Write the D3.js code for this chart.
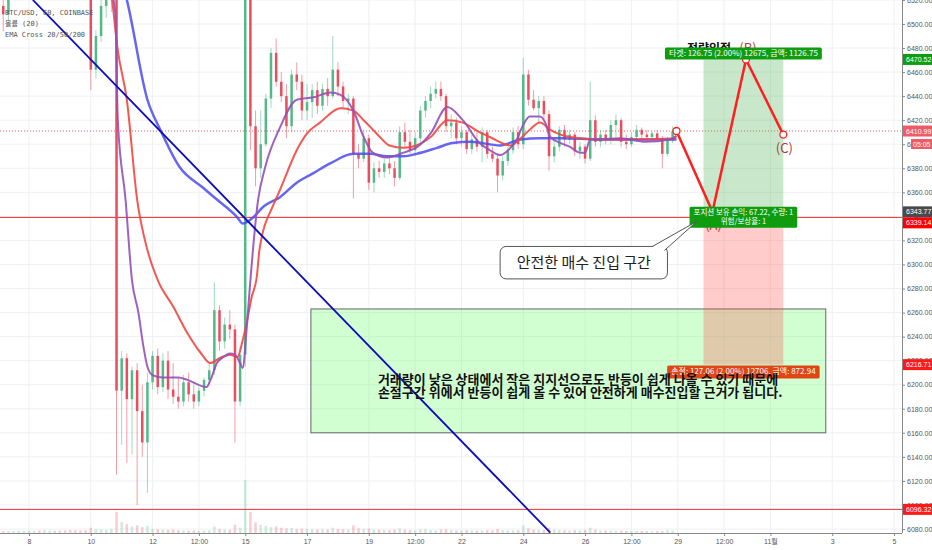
<!DOCTYPE html>
<html>
<head>
<meta charset="utf-8">
<script src="https://cdn.jsdelivr.net/npm/d3@7"></script>
<style>
  body { margin: 0; background: #fff; }
  svg { display: block; }
  .axis text { font-family: "Liberation Sans", "Noto Sans CJK KR", sans-serif; font-size: 7px; fill: #555; }
  .axis line { stroke: #888; }
  .axis .domain { display: none; }
</style>
</head>
<body>
<script>
// ---- data (BTC/USD, Coinbase, bars of 4h starting Oct 7 04:00) ----
var barStart = [7, 4];
var barHours = 4;
var ohlc = [
  [6515,6545,6494,6508],[6508,6540,6502,6535],[6535,6570,6528,6560],[6560,6590,6550,6580],[6580,6610,6570,6600],
  [6600,6630,6590,6620],[6620,6650,6610,6640],[6640,6660,6620,6630],[6630,6655,6615,6645],[6645,6670,6635,6650],[6650,6665,6630,6640],
  [6640,6655,6615,6625],[6625,6640,6600,6610],[6610,6630,6590,6600],[6600,6615,6570,6580],[6580,6600,6560,6570],[6570,6585,6540,6550],
  [6550,6555,6445,6462],[6462,6495,6455,6490],[6490,6525,6485,6515],[6515,6540,6505,6530],[6530,6560,6510,6545],[6545,6550,6125,6195],
  [6195,6228,6150,6222],[6222,6226,6135,6188],[6188,6215,6142,6212],[6212,6218,6100,6178],[6178,6200,6140,6152],[6152,6210,6110,6202],
  [6202,6228,6196,6224],[6224,6230,6192,6198],[6198,6226,6194,6220],[6220,6228,6188,6196],[6196,6218,6184,6190],[6190,6206,6180,6186],
  [6186,6208,6182,6202],[6202,6210,6186,6192],[6192,6200,6180,6186],[6186,6198,6182,6195],[6195,6206,6190,6204],[6204,6218,6200,6212],
  [6212,6285,6208,6262],[6262,6266,6228,6236],[6236,6256,6230,6250],[6250,6262,6238,6246],[6246,6250,6152,6186],[6186,6232,6182,6225],
  [6225,6640,6215,6590],[6590,6600,6395,6415],[6415,6428,6365,6380],[6380,6428,6372,6400],[6400,6442,6398,6438],[6438,6480,6430,6476],
  [6476,6488,6448,6452],[6452,6460,6435,6440],[6440,6450,6405,6415],[6415,6462,6410,6458],[6458,6468,6445,6452],[6452,6458,6420,6428],
  [6428,6450,6420,6435],[6435,6450,6422,6445],[6445,6452,6425,6432],[6432,6450,6428,6446],[6446,6455,6432,6440],[6440,6490,6438,6462],
  [6462,6468,6440,6448],[6448,6452,6430,6436],[6436,6442,6425,6438],[6438,6440,6355,6392],[6392,6400,6380,6388],[6388,6412,6385,6405],
  [6405,6408,6362,6368],[6368,6385,6360,6380],[6380,6386,6372,6377],[6377,6388,6372,6384],[6384,6390,6375,6380],[6380,6386,6365,6372],
  [6372,6415,6370,6410],[6410,6418,6398,6402],[6402,6412,6392,6395],[6395,6410,6390,6405],[6405,6432,6402,6428],[6428,6440,6422,6436],
  [6436,6448,6430,6442],[6442,6452,6438,6446],[6446,6452,6436,6440],[6440,6442,6410,6415],[6415,6425,6405,6418],[6418,6422,6400,6405],
  [6405,6415,6398,6410],[6410,6412,6392,6396],[6396,6408,6392,6404],[6404,6410,6394,6398],[6398,6414,6385,6410],[6410,6412,6388,6392],
  [6392,6398,6385,6388],[6388,6392,6360,6374],[6374,6390,6370,6386],[6386,6398,6382,6395],[6395,6414,6392,6410],[6410,6415,6396,6400],
  [6400,6472,6396,6458],[6458,6462,6432,6437],[6437,6445,6428,6430],[6430,6440,6418,6436],[6436,6440,6420,6425],[6425,6428,6378,6390],
  [6390,6402,6385,6398],[6398,6415,6394,6412],[6412,6416,6398,6404],[6404,6412,6400,6408],[6408,6410,6390,6394],[6394,6402,6388,6398],
  [6398,6400,6384,6388],[6388,6452,6386,6420],[6420,6424,6398,6402],[6402,6412,6398,6408],[6408,6412,6400,6404],[6404,6420,6400,6416],
  [6416,6425,6405,6420],[6420,6422,6398,6402],[6402,6408,6396,6400],[6400,6410,6398,6406],[6406,6416,6402,6412],[6412,6414,6404,6408],
  [6408,6412,6403,6406],[6406,6411,6402,6409],[6409,6412,6404,6405],[6405,6407,6380,6392],[6392,6406,6390,6403],[6403,6415,6401,6410.99]
];
var volumes = [
  300,350,320,400,380,
  420,380,450,500,420,380,
  400,450,520,480,460,500,
  900,650,600,550,700,3600,
  1900,1500,1100,1300,1000,1200,
  700,650,600,550,600,500,
  450,400,420,380,400,450,
  1100,700,600,550,1400,900,
  9000,3600,1800,1400,1200,1000,
  1100,900,800,850,700,750,
  700,650,600,650,600,900,
  700,650,600,1300,800,700,
  750,600,550,500,520,600,
  800,600,500,450,600,650,
  500,450,600,650,500,450,
  450,500,420,400,450,500,
  450,700,500,420,450,480,
  1300,800,600,550,500,900,
  600,500,450,420,480,450,
  500,900,600,450,400,420,
  380,400,350,330,360,340,
  320,300,330,310,500,400
];

// EMA points: [day of October, hour, price]
var ema20 = [[10,7,6560],[10,19,6510],[10,21,6420],[11,3,6354],[11,8,6287],[11,13,6260],[11,17,6231],[11,20,6215],
  [12,0,6208],[12,8,6206],[12,20,6206],[13,3,6204],[13,18,6198],[13,21,6204],[14,2,6218],[14,7,6223],[14,12,6226],
  [14,16,6225],[14,20,6218],[14,22,6214],[15,1,6245],[15,4,6287],[15,10,6354],[15,15,6379],[16,3,6414],[16,16,6437],
  [17,5,6439],[17,18,6443],[18,2,6441],[18,12,6428],[18,20,6406],[19,3,6393],[19,14,6389],[20,3,6393],[20,14,6398],
  [21,0,6409],[21,13,6431],[22,1,6420],[22,14,6401],[22,22,6395],[23,6,6391],[23,14,6397],[23,19,6404],[23,23,6414],
  [24,5,6423],[24,13,6423],[24,17,6418],[24,21,6406],[25,5,6401],[25,12,6398],[25,20,6393],[26,0,6393],[26,4,6404],
  [26,12,6404],[27,3,6405],[27,23,6402],[28,18,6404],[28,23,6407]];
var ema50 = [[10,4,6580],[10,16,6525],[10,21,6478],[11,4,6437],[11,12,6354],[11,20,6312],[12,4,6287],[12,16,6265],
  [13,3,6243],[13,13,6227],[13,21,6218],[14,4,6222],[14,12,6225],[14,18,6223],[14,22,6237],[15,1,6251],[15,5,6273],
  [15,9,6290],[15,11,6312],[15,22,6350],[16,3,6362],[16,16,6395],[17,0,6409],[17,10,6418],[18,2,6430],[18,12,6428],
  [18,20,6420],[19,6,6409],[19,16,6399],[20,3,6397],[20,13,6399],[21,0,6406],[21,13,6420],[22,1,6418],[22,14,6410],
  [22,22,6406],[23,14,6399],[23,21,6404],[24,5,6412],[24,13,6418],[24,21,6412],[25,5,6408],[25,20,6405],[26,12,6404],
  [27,19,6404],[28,23,6405]];
var ema200 = [[10,19,6553],[11,4,6520],[11,20,6437],[12,6,6412],[12,21,6381],[13,15,6364],[14,2,6354],[14,18,6339],
  [14,22,6334],[15,6,6339],[15,14,6348],[16,3,6356],[16,16,6368],[17,5,6376],[17,18,6384],[18,12,6392],[19,1,6392],
  [19,14,6390],[20,3,6390],[20,13,6392],[21,5,6397],[21,17,6401],[22,7,6402],[23,6,6399],[23,22,6404],[24,13,6405],
  [25,5,6405],[26,12,6404],[28,18,6404],[28,23,6404]];

var trendLine = [[8,3,6520],[24,21,6077]];
var waves = [[28,23,6410.99],[30,3,6343.77],[31,5,6470.52],[32,10,6408]];
var waveNames = ['', '(A)', '(B)', '(C)'];

var position = { from: [29,20], to: [32,10], entry: 6343.77, target: 6470.52, stop: 6216.71 };
var targetText = '타겟: 126.75 (2.00%) 12675, 금액: 1126.75';
var entryText = ['포지션 보유 손익: 67.22, 수량: 1', '위험/보상율: 1'];
var stopText = '손절: 127.06 (2.00%) 12706, 금액: 872.94';

var callout = { from: [23,6], to: [28,16], top: 6315, bottom: 6288, tip: [29,15,6336], text: '안전한 매수 진입 구간' };
var note = { from: [17,3], to: [33,19], top: 6263, bottom: 6160,
  text: ['거래량이 낮은 상태에서 작은 지지선으로도 반등이 쉽게 나올 수 있기 때문에',
         '손절구간 위에서 반등이 쉽게 올 수 있어 안전하게 매수진입할 근거가 됩니다.'] };

var supportLines = [6339.14, 6096.32];
var lastPrice = 6410.99;
var countdown = '05:05';
var priceTags = [
  { v: 6470.52, color: '#0f9d0f' },
  { v: 6410.99, color: '#ef5a66' },
  { v: 6343.77, color: '#4a4a4a' },
  { v: 6339.14, color: '#ff0000' },
  { v: 6216.71, color: '#ff1a1a' },
  { v: 6096.32, color: '#ff1a1a' }
];

var xTickDays = [[8,0],[10,0],[12,0],[13,12],[15,0],[17,0],[19,0],[20,12],[22,0],[24,0],[26,0],[27,12],[29,0],[30,12],[32,0],[34,0],[36,0]];
var xTickLabels = ['8','10','12','12:00','15','17','19','12:00','22','24','26','12:00','29','12:00','11월','3','5'];
var priceTicks = [6080,6100,6120,6140,6160,6180,6200,6220,6240,6260,6280,6300,6320,6340,6360,6380,6400,6420,6440,6460,6480,6500,6520];
var legend = ['BTC/USD, 60, COINBASE', '볼륨 (20)', 'EMA Cross 20/50/200'];

// ---- chart ----
var W = 902, H = 533;
var cjk = '"Noto Sans CJK KR", "Noto Sans", sans-serif';
var t = function (d, h) { return new Date(2018, 9, d, h || 0); };

var x = d3.scaleTime().domain([t(8), t(36)]).range([29, 894]);
var y = d3.scaleLinear().domain([6080, 6500]).range([529, 24]);
var yv = d3.scaleLinear().domain([0, 9000]).range([H, 480]);

var svg = d3.select('body').append('svg').attr('width', 932).attr('height', 550);
svg.append('defs').append('clipPath').attr('id', 'plot')
  .append('rect').attr('width', W).attr('height', H);

var tickDates = xTickDays.map(function (d) { return t(d[0], d[1]); });

// grid
var grid = svg.append('g');
grid.selectAll('.gx').data(tickDates).enter().append('line')
  .attr('x1', function (d) { return x(d); }).attr('x2', function (d) { return x(d); })
  .attr('y1', 0).attr('y2', H).attr('stroke', '#eef0f5');
grid.selectAll('.gy').data(priceTicks).enter().append('line')
  .attr('x1', 0).attr('x2', W)
  .attr('y1', function (d) { return y(d); }).attr('y2', function (d) { return y(d); })
  .attr('stroke', '#eef0f5');

var plot = svg.append('g').attr('clip-path', 'url(#plot)');

var bars = ohlc.map(function (d, i) {
  return { t: d3.timeHour.offset(t(barStart[0], barStart[1]), barHours * i), o: d[0], h: d[1], l: d[2], c: d[3], v: volumes[i] };
});
var up = '#53b987', down = '#eb4d5c';
var col = function (d) { return d.c >= d.o ? up : down; };

// volume
plot.append('g').selectAll('rect').data(bars).enter().append('rect')
  .attr('x', function (d) { return x(d.t) - 1.25; })
  .attr('width', 2.5)
  .attr('y', function (d) { return yv(d.v); })
  .attr('height', function (d) { return H - yv(d.v); })
  .attr('fill', col).attr('fill-opacity', 0.28);

// horizontal price lines
plot.selectAll('.hl').data(supportLines).enter().append('line')
  .attr('x1', 0).attr('x2', W)
  .attr('y1', function (d) { return y(d); }).attr('y2', function (d) { return y(d); })
  .attr('stroke', '#f03030').attr('stroke-width', 1);
plot.append('line').attr('x1', 0).attr('x2', W).attr('y1', y(lastPrice)).attr('y2', y(lastPrice))
  .attr('stroke', '#ef5a66').attr('stroke-dasharray', '1,2');

// note box (under the position zones)
var nx0 = x(t(note.from[0], note.from[1])), nx1 = x(t(note.to[0], note.to[1]));
plot.append('rect').attr('x', nx0).attr('y', y(note.top))
  .attr('width', nx1 - nx0).attr('height', y(note.bottom) - y(note.top))
  .attr('fill', 'rgba(102,255,102,0.3)').attr('stroke', '#666');

// position zones
var px0 = x(t(position.from[0], position.from[1])), px1 = x(t(position.to[0], position.to[1]));
plot.append('rect').attr('x', px0).attr('width', px1 - px0)
  .attr('y', y(position.target)).attr('height', y(position.entry) - y(position.target))
  .attr('fill', 'rgba(76,175,80,0.3)');
plot.append('rect').attr('x', px0).attr('width', px1 - px0)
  .attr('y', y(position.entry)).attr('height', y(position.stop) - y(position.entry))
  .attr('fill', 'rgba(255,82,82,0.3)');

// candles
var cg = plot.append('g');
cg.selectAll('line').data(bars).enter().append('line')
  .attr('x1', function (d) { return x(d.t); }).attr('x2', function (d) { return x(d.t); })
  .attr('y1', function (d) { return y(d.h); }).attr('y2', function (d) { return y(d.l); })
  .attr('stroke', col).attr('stroke-opacity', 0.55);
cg.selectAll('rect').data(bars).enter().append('rect')
  .attr('x', function (d) { return x(d.t) - 1.25; })
  .attr('width', 2.5)
  .attr('y', function (d) { return y(Math.max(d.o, d.c)); })
  .attr('height', function (d) { return Math.max(1, Math.abs(y(d.o) - y(d.c))); })
  .attr('fill', col);

// EMAs
var emaLine = d3.line()
  .x(function (d) { return x(t(d[0], d[1])); })
  .y(function (d) { return y(d[2]); })
  .curve(d3.curveMonotoneX);
plot.append('path').datum(ema200).attr('d', emaLine).attr('fill', 'none')
  .attr('stroke', '#4b4bf0').attr('stroke-opacity', 0.85).attr('stroke-width', 2.5);
plot.append('path').datum(ema50).attr('d', emaLine).attr('fill', 'none')
  .attr('stroke', '#f2463f').attr('stroke-opacity', 0.9).attr('stroke-width', 2);
plot.append('path').datum(ema20).attr('d', emaLine).attr('fill', 'none')
  .attr('stroke', '#9550b8').attr('stroke-opacity', 0.9).attr('stroke-width', 2);

// trend line
plot.append('path').datum(trendLine).attr('d', d3.line()
    .x(function (d) { return x(t(d[0], d[1])); })
    .y(function (d) { return y(d[2]); }))
  .attr('stroke', '#0d0dbb').attr('stroke-width', 1.8).attr('fill', 'none');

// tag helper: centred box with white text
function tag(g, cx, yTop, lines, fill, size, lh) {
  var grp = g.append('g');
  var rect = grp.append('rect').attr('fill', fill).attr('rx', 1.5);
  var wMax = 0;
  lines.forEach(function (s, i) {
    var tx = grp.append('text').attr('x', cx).attr('y', yTop + size + 0.5 + i * lh)
      .attr('text-anchor', 'middle').attr('fill', '#fff')
      .style('font-family', cjk).style('font-size', size + 'px').text(s);
    wMax = Math.max(wMax, tx.node().getComputedTextLength());
  });
  rect.attr('x', cx - wMax / 2 - 4).attr('width', wMax + 8)
    .attr('y', yTop).attr('height', lines.length * lh + 3);
}

var ann = svg.append('g').attr('clip-path', 'url(#plot)');
var pcx = (px0 + px1) / 2;

// labels hidden behind the target tag
ann.append('text').attr('x', 687).attr('y', y(position.target) - 6)
  .style('font-family', cjk).style('font-size', '12px').style('font-weight', 'bold')
  .attr('fill', '#111').text('전량익절');

// wave path
var wx = function (d) { return x(t(d[0], d[1])); };
var wy = function (d) { return y(d[2]); };
ann.append('path').datum(waves).attr('d', d3.line().x(wx).y(wy))
  .attr('fill', 'none').attr('stroke', '#ff1f1f').attr('stroke-width', 2.5).attr('stroke-linejoin', 'miter');
ann.selectAll('.wl').data(waves.slice(1)).enter().append('text')
  .attr('x', function (d, i) { return wx(d) + (i === 1 ? 2 : 1); })
  .attr('y', function (d, i) { return i === 1 ? wy(d) - 6 : wy(d) + 18; })
  .attr('text-anchor', 'middle').attr('fill', '#b03a3a')
  .style('font-family', cjk).style('font-size', '13px')
  .text(function (d, i) { return waveNames[i + 1]; });
ann.selectAll('circle').data(waves).enter().append('circle')
  .attr('cx', wx).attr('cy', wy).attr('r', 3.5)
  .attr('fill', '#fff').attr('stroke', '#ff1f1f').attr('stroke-width', 1.3);

// position tags
tag(ann, pcx, y(position.target) - 12, [targetText], '#0f9d0f', 8, 9);
tag(ann, pcx, y(position.entry) - 5, entryText, '#0f9d0f', 7.5, 9);
tag(ann, pcx, y(position.stop) + 1, [stopText], '#e04515', 8, 10);

// note text
note.text.forEach(function (s, i) {
  ann.append('text').attr('x', nx0 + 67).attr('y', y(note.top) + 75 + i * 13)
    .style('font-family', cjk).style('font-size', '13px').style('font-weight', 'bold')
    .attr('fill', '#111').text(s);
});

// callout
var cx0 = x(t(callout.from[0], callout.from[1])), cx1 = x(t(callout.to[0], callout.to[1]));
var cyT = y(callout.top), cyB = y(callout.bottom);
ann.append('rect').attr('x', cx0).attr('y', cyT).attr('width', cx1 - cx0).attr('height', cyB - cyT)
  .attr('rx', 6).attr('fill', '#fff').attr('stroke', '#555');
var tip = [x(t(callout.tip[0], callout.tip[1])), y(callout.tip[2])];
ann.append('path')
  .attr('d', 'M' + (cx1 - 15) + ',' + cyT + 'L' + tip[0] + ',' + tip[1] + 'L' + (cx1 - 3) + ',' + (cyT + 4))
  .attr('fill', '#fff').attr('stroke', '#555');
ann.append('text').attr('x', (cx0 + cx1) / 2).attr('y', (cyT + cyB) / 2 + 5.5)
  .attr('text-anchor', 'middle').style('font-family', cjk).style('font-size', '15px')
  .attr('fill', '#222').text(callout.text);

// axes
var axR = d3.axisRight(y).tickValues(priceTicks).tickFormat(d3.format('.2f')).tickSize(3).tickPadding(2);
svg.append('g').attr('class', 'axis').attr('transform', 'translate(' + W + ',0)').call(axR);
var axB = d3.axisBottom(x).tickValues(tickDates)
  .tickFormat(function (d, i) { return xTickLabels[i]; }).tickSize(3).tickPadding(3);
svg.append('g').attr('class', 'axis').attr('transform', 'translate(0,' + H + ')').call(axB);
svg.append('line').attr('x1', W + 0.5).attr('x2', W + 0.5).attr('y1', 0).attr('y2', H).attr('stroke', '#888');
svg.append('line').attr('x1', 0).attr('x2', W).attr('y1', H + 0.5).attr('y2', H + 0.5).attr('stroke', '#888');

// price tags on the right axis (pushed apart if they overlap)
var tags = priceTags.map(function (d) { return { v: d.v, color: d.color, y: y(d.v) }; })
  .sort(function (a, b) { return a.y - b.y; });
for (var i = 1; i < tags.length; i++) {
  if (tags[i].y - tags[i - 1].y < 11) tags[i].y = tags[i - 1].y + 11;
}
var tg = svg.append('g').selectAll('g').data(tags).enter().append('g');
tg.append('rect').attr('x', W + 1).attr('width', 932 - W - 1)
  .attr('y', function (d) { return d.y - 5.5; }).attr('height', 11)
  .attr('fill', function (d) { return d.color; });
tg.append('text').attr('x', W + 4).attr('y', function (d) { return d.y + 2.5; })
  .attr('fill', '#fff').style('font-family', '"Liberation Sans", sans-serif').style('font-size', '7px')
  .text(function (d) { return d3.format('.2f')(d.v); });
svg.append('rect').attr('x', 911).attr('width', 21).attr('y', y(lastPrice) + 8).attr('height', 10).attr('fill', '#ef5a66');
svg.append('text').attr('x', 913).attr('y', y(lastPrice) + 15.5).attr('fill', '#fff')
  .style('font-family', '"Liberation Sans", sans-serif').style('font-size', '7px').text(countdown);

// legend
svg.append('g').selectAll('text').data(legend).enter().append('text')
  .attr('x', 5).attr('y', function (d, i) { return 15 + i * 11; })
  .attr('fill', '#555').style('font-family', '"DejaVu Sans Mono", "Noto Sans CJK KR", monospace').style('font-size', '7px')
  .text(function (d) { return d; });
</script>
</body>
</html>
